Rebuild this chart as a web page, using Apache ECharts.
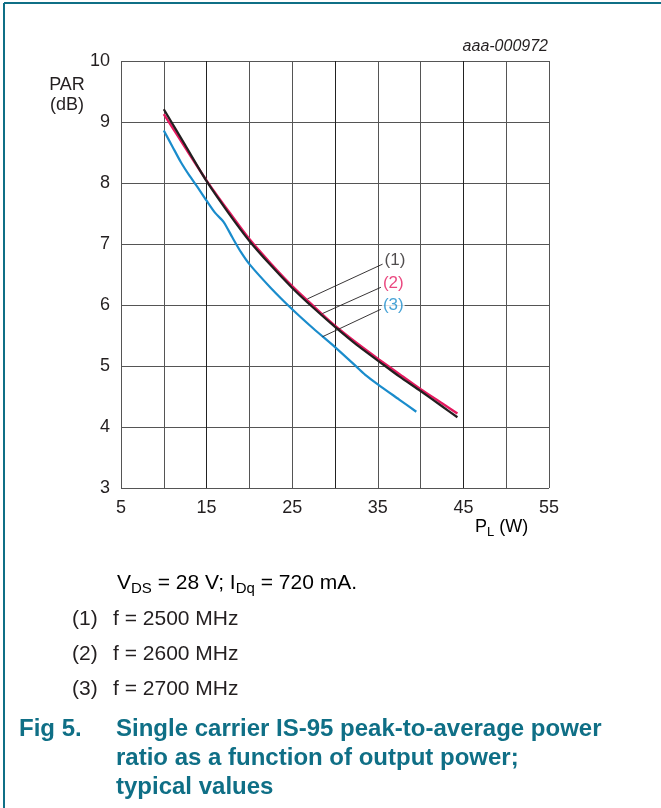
<!DOCTYPE html>
<html><head><meta charset="utf-8">
<script src="https://cdn.jsdelivr.net/npm/echarts@6/dist/echarts.min.js"></script>
<style>html,body{margin:0;padding:0;background:#fff}#c{width:661px;height:808px}</style>
</head><body><div id="c"></div>
<script>
// ---- data ----
const xTickLabels = ['5', '15', '25', '35', '45', '55'];
const yTickLabels = ['3', '4', '5', '6', '7', '8', '9', '10'];

const pl1 = [10, 12.5, 15, 17.5, 20, 22.5, 25, 27.5, 30, 32.5, 35, 37.5, 40, 42.5, 44.3];
const par1 = [9.21, 8.62, 8.03, 7.52, 7.05, 6.65, 6.28, 5.95, 5.64, 5.35, 5.09, 4.83, 4.59, 4.34, 4.16];

const pl2 = [10, 12.5, 15, 17.5, 20, 22.5, 25, 27.5, 30, 32.5, 35, 37.5, 40, 42.5, 44.3];
const par2 = [9.13, 8.58, 8.04, 7.55, 7.08, 6.68, 6.31, 5.98, 5.66, 5.38, 5.12, 4.87, 4.62, 4.39, 4.22];

const pl3 = [10, 11, 12, 13, 14, 15, 16, 17, 18, 19, 20, 22.5, 25, 27.5, 30, 32.5, 33.5, 35, 37.5, 39.5];
const par3 = [8.86, 8.60, 8.34, 8.12, 7.92, 7.71, 7.51, 7.36, 7.11, 6.87, 6.67, 6.28, 5.93, 5.61, 5.31, 4.99, 4.86, 4.70, 4.45, 4.25];

const curveNames = ['(1)', '(2)', '(3)'];
const leadStartX = [35.56, 35.36, 35.36];
const leadStartY = [6.67, 6.29, 5.93];
const leadEndX = [26.78, 28.53, 28.54];
const leadEndY = [6.10, 5.86, 5.48];

// ---- chart ----
const colors = ['#231f20', '#e5195f', '#1a8ccc'];
const zip = (a, b) => a.map((v, i) => [v, b[i]]);
const chart = echarts.init(document.getElementById('c'), null, { renderer: 'canvas' });
const FONT = 'Liberation Sans, Arial, sans-serif';
const teal = '#0f6f86';
const ink = '#231f20';

const series = [
  { type: 'line', data: zip(pl3, par3), smooth: 0.25, showSymbol: false, lineStyle: { color: colors[2], width: 2.2 }, z: 3 },
  { type: 'line', data: zip(pl2, par2), smooth: 0.25, showSymbol: false, lineStyle: { color: colors[1], width: 2.4 }, z: 4 },
  { type: 'line', data: zip(pl1, par1), smooth: 0.25, showSymbol: false, lineStyle: { color: colors[0], width: 2.2 }, z: 5 }
];
curveNames.forEach((n, i) => {
  series.push({ type: 'line', data: [[leadStartX[i], leadStartY[i]], [leadEndX[i], leadEndY[i]]], showSymbol: false,
    lineStyle: { color: ink, width: 0.9 }, z: 6, silent: true });
  series.push({ type: 'scatter', data: [[leadStartX[i], leadStartY[i]]], symbolSize: 0, z: 7, silent: true,
    label: { show: true, position: 'right', distance: 1, offset: [0, -4], formatter: n,
      color: colors[i], fontSize: 17, fontFamily: FONT, backgroundColor: '#fff', padding: [0, 1, 0, 1] } });
});

chart.setOption({
  animation: false,
  backgroundColor: '#fff',
  grid: { left: 121, right: 112, top: 61, bottom: 320 },
  xAxis: {
    type: 'value', min: 5, max: 55, interval: 5,
    axisLine: { show: false }, axisTick: { show: false },
    axisLabel: { color: ink, fontSize: 18, fontFamily: FONT, margin: 11,
      formatter: v => xTickLabels.includes(String(v)) ? String(v) : '' },
    splitLine: { show: true, lineStyle: { color: ['#555', '#555', '#222'], width: 1 } }
  },
  yAxis: {
    type: 'value', min: 3, max: 10, interval: 1,
    axisLine: { show: false }, axisTick: { show: false },
    axisLabel: { color: ink, fontSize: 18, fontFamily: FONT, margin: 11,
      formatter: v => yTickLabels.includes(String(v)) ? String(v) : '' },
    splitLine: { show: true, lineStyle: { color: '#555', width: 1 } }
  },
  series: series,
  graphic: [
    { type: 'line', shape: { x1: 4, y1: 3, x2: 661, y2: 3 }, style: { stroke: teal, lineWidth: 2 } },
    { type: 'line', shape: { x1: 4, y1: 3, x2: 4, y2: 808 }, style: { stroke: teal, lineWidth: 2 } },
    { type: 'text', x: 548, y: 47, style: { text: 'aaa-000972', font: 'italic 16px ' + FONT, fill: ink, align: 'right', verticalAlign: 'middle' } },
    { type: 'text', x: 67, y: 85, style: { text: 'PAR', font: '18px ' + FONT, fill: ink, align: 'center', verticalAlign: 'middle' } },
    { type: 'text', x: 67, y: 105, style: { text: '(dB)', font: '18px ' + FONT, fill: ink, align: 'center', verticalAlign: 'middle' } },
    { type: 'text', x: 475, y: 527, style: { text: '{n|P}{s|L}{n| (W)}', align: 'left', verticalAlign: 'middle',
      rich: { n: { fontSize: 18, fontFamily: FONT, color: ink }, s: { fontSize: 13, fontFamily: FONT, color: ink, padding: [10, 0, 0, 0] } } } },
    { type: 'text', x: 117, y: 583, style: { text: '{n|V}{s|DS}{n| = 28 V; I}{s|Dq}{n| = 720 mA.}', align: 'left', verticalAlign: 'middle',
      rich: { n: { fontSize: 21, fontFamily: FONT, color: ink }, s: { fontSize: 15, fontFamily: FONT, color: ink, padding: [11, 0, 0, 0] } } } },
    { type: 'text', x: 72, y: 619, style: { text: '(1)', font: '21px ' + FONT, fill: ink, verticalAlign: 'middle' } },
    { type: 'text', x: 113, y: 619, style: { text: 'f = 2500 MHz', font: '21px ' + FONT, fill: ink, verticalAlign: 'middle' } },
    { type: 'text', x: 72, y: 654, style: { text: '(2)', font: '21px ' + FONT, fill: ink, verticalAlign: 'middle' } },
    { type: 'text', x: 113, y: 654, style: { text: 'f = 2600 MHz', font: '21px ' + FONT, fill: ink, verticalAlign: 'middle' } },
    { type: 'text', x: 72, y: 689, style: { text: '(3)', font: '21px ' + FONT, fill: ink, verticalAlign: 'middle' } },
    { type: 'text', x: 113, y: 689, style: { text: 'f = 2700 MHz', font: '21px ' + FONT, fill: ink, verticalAlign: 'middle' } },
    { type: 'text', x: 19, y: 729, style: { text: 'Fig 5.', font: 'bold 24px ' + FONT, fill: teal, verticalAlign: 'middle' } },
    { type: 'text', x: 116, y: 729, style: { text: 'Single carrier IS-95 peak-to-average power', font: 'bold 24px ' + FONT, fill: teal, verticalAlign: 'middle' } },
    { type: 'text', x: 116, y: 758, style: { text: 'ratio as a function of output power;', font: 'bold 24px ' + FONT, fill: teal, verticalAlign: 'middle' } },
    { type: 'text', x: 116, y: 787, style: { text: 'typical values', font: 'bold 24px ' + FONT, fill: teal, verticalAlign: 'middle' } }
  ]
});
</script></body></html>
